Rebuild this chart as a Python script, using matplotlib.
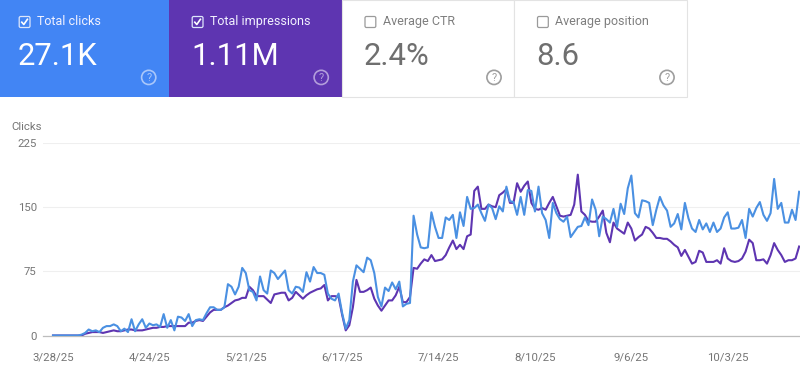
import matplotlib
matplotlib.use("Agg")
import matplotlib.pyplot as plt
from matplotlib.patches import Rectangle, FancyBboxPatch, Circle
import pandas as pd

plt.rcParams['font.family'] = ['Roboto', 'DejaVu Sans']

clicks = [0,0,0,0,0,0,0,0,1,3,7,5,6,4,9,11,11,13,11,5,8,4,19,5,13,19,9,14,12,13,10,25,9,18,6,22,21,17,25,11,
          18,19,18,26,33,33,30,30,33,60,57,48,57,79,73,53,51,41,69,53,49,76,73,66,71,76,53,49,57,56,
          51,74,63,80,73,73,71,49,43,41,49,26,8,18,63,82,78,74,91,88,73,45,34,56,52,62,54,63,34,37,
          38,140,118,103,102,103,144,127,114,114,138,135,141,114,144,128,162,148,149,153,143,134,153,149,136,151,145,174,157,156,
          141,162,141,170,169,145,174,143,135,114,155,143,136,133,139,115,121,127,128,138,129,159,147,116,
          139,136,132,148,127,154,142,172,187,143,138,158,157,155,129,147,162,152,146,127,131,142,124,155,137,125,121,135,124,131,
          121,132,121,125,138,144,125,125,126,135,114,148,139,149,156,141,134,143,183,148,155,132,132,147,135,168]
impressions = [0,0,0,0,0,0,0,0,0,2,3,4,4,4,3,4,5,6,5,5,6,7,7,6,6,6,7,8,9,9,10,10,11,11,11,11,11,11,15,15,
               17,18,17,22,27,30,30,30,33,35,38,41,42,44,44,57,53,46,46,46,42,38,48,49,50,50,41,44,51,47,
               43,47,50,52,54,55,59,41,46,46,45,24,6,12,33,65,51,51,53,56,43,35,29,35,41,41,47,57,39,39,
               45,79,78,84,89,87,94,87,88,89,94,103,111,101,106,101,116,118,169,174,148,148,153,151,150,164,167,171,155,155,
               178,168,175,180,155,148,147,149,147,155,162,151,140,139,140,141,153,188,145,141,134,133,133,139,
               146,120,109,132,125,122,119,132,125,111,115,118,127,125,120,114,114,113,113,110,106,103,93,100,92,84,86,99,97,86,
               86,86,88,84,102,90,87,86,87,90,98,112,108,88,88,89,84,94,108,100,94,86,88,88,90,104]
start_date = "2025-03-28"
tick_dates = ["2025-03-28","2025-04-24","2025-05-21","2025-06-17","2025-07-14","2025-08-10","2025-09-06","2025-10-03"]
tick_labels = ["3/28/25","4/24/25","5/21/25","6/17/25","7/14/25","8/10/25","9/6/25","10/3/25"]
y_ticks = [0, 75, 150, 225]
card_titles = ["Total clicks","Total impressions","Average CTR","Average position"]
card_values = ["27.1K","1.11M","2.4%","8.6"]
card_checked = [True, True, False, False]

W, H = 800, 370
BLUE, PURPLE = "#4285F4", "#5E35B1"
LINE_BLUE, LINE_PURPLE = "#4A90E2", "#5E35B1"
fig = plt.figure(figsize=(W/100, H/100), dpi=100, facecolor="white")

# Chart axes, placed in pixels
L, R, T, B = 43, 800, 143, 335.5
ax = fig.add_axes([L/W, 1-B/H, (R-L)/W, (B-T)/H])
dates = pd.date_range(start_date, periods=len(clicks), freq="D")
px_per_day = 3.57
x0 = pd.Timestamp(start_date)
ax.set_xlim(x0 - pd.Timedelta(days=(53-L)/px_per_day), x0 + pd.Timedelta(days=(R-53)/px_per_day))
ax.set_ylim(0, 225)
ax.plot(dates, impressions, color=LINE_PURPLE, lw=1.5, solid_joinstyle="round", zorder=3)
ax.plot(dates, clicks, color=LINE_BLUE, lw=1.5, solid_joinstyle="round", zorder=4)
ax.set_yticks(y_ticks)
ax.set_xticks(pd.to_datetime(tick_dates))
ax.set_xticklabels(tick_labels)
ax.tick_params(axis="both", length=0, labelsize=8.2, labelcolor="#757575")
ax.tick_params(axis="x", pad=12)
ax.tick_params(axis="y", pad=4.5)
ax.grid(axis="y", color="#EFEFEF", lw=0.8)
ax.set_axisbelow(True)
for s in ["top", "right", "left"]:
    ax.spines[s].set_visible(False)
ax.spines["bottom"].set_color("#BDBDBD")
ax.spines["bottom"].set_linewidth(0.9)

# Card overlay in pixel coordinates
ov = fig.add_axes([0, 0, 1, 1], facecolor="none")
ov.set_xlim(0, W)
ov.set_ylim(H, 0)
ov.axis("off")
ov.text(11, 127.5, "Clicks", fontsize=8.2, color="#757575", va="center", ha="left")

card_x = [0, 169, 342, 514]
card_w = [169, 172.5, 172, 172.7]
fills = [BLUE, PURPLE, "white", "white"]
box_x = [19.2, 192.2, 365, 537.5]
help_x = [148.7, 321.2, 494, 667]
for i, (x, w) in enumerate(zip(card_x, card_w)):
    on = card_checked[i]
    ov.add_patch(Rectangle((x, 0), w, 97.2, facecolor=fills[i],
                           edgecolor="none" if on else "#E3E3E3", lw=0.8, zorder=1))
    bx = box_x[i]
    ov.add_patch(FancyBboxPatch((bx, 16.5), 10.8, 11, boxstyle="round,pad=0,rounding_size=1.5",
                                facecolor="none", edgecolor="#DDE6FB" if on else "#9A9A9A", lw=0.9, zorder=2))
    if on:
        ov.plot([bx+2.6, bx+4.6, bx+8.2], [22.2, 24.5, 19.3], color="white", lw=1.2, zorder=3)
    ov.text(bx + 17.7, 21.8, card_titles[i], fontsize=9.0,
            color="#F2F2FF" if on else "#7E7E7E", va="center", ha="left", zorder=3)
    ov.text(bx - 1.2, 56.5, card_values[i], fontsize=22.3,
            color="white" if on else "#6F6F6F", va="center", ha="left", zorder=3)
    hx = help_x[i]
    hc = {0: "#A9C7FA", 1: "#B39DDB"}.get(i, "#9E9E9E")
    ov.add_patch(Circle((hx, 77.4), 7.1, facecolor="none", edgecolor=hc, lw=1.2, zorder=3))
    ov.text(hx, 77.6, "?", fontsize=7.8, color=hc, ha="center", va="center", zorder=3)

fig.savefig("out.png", dpi=100)
